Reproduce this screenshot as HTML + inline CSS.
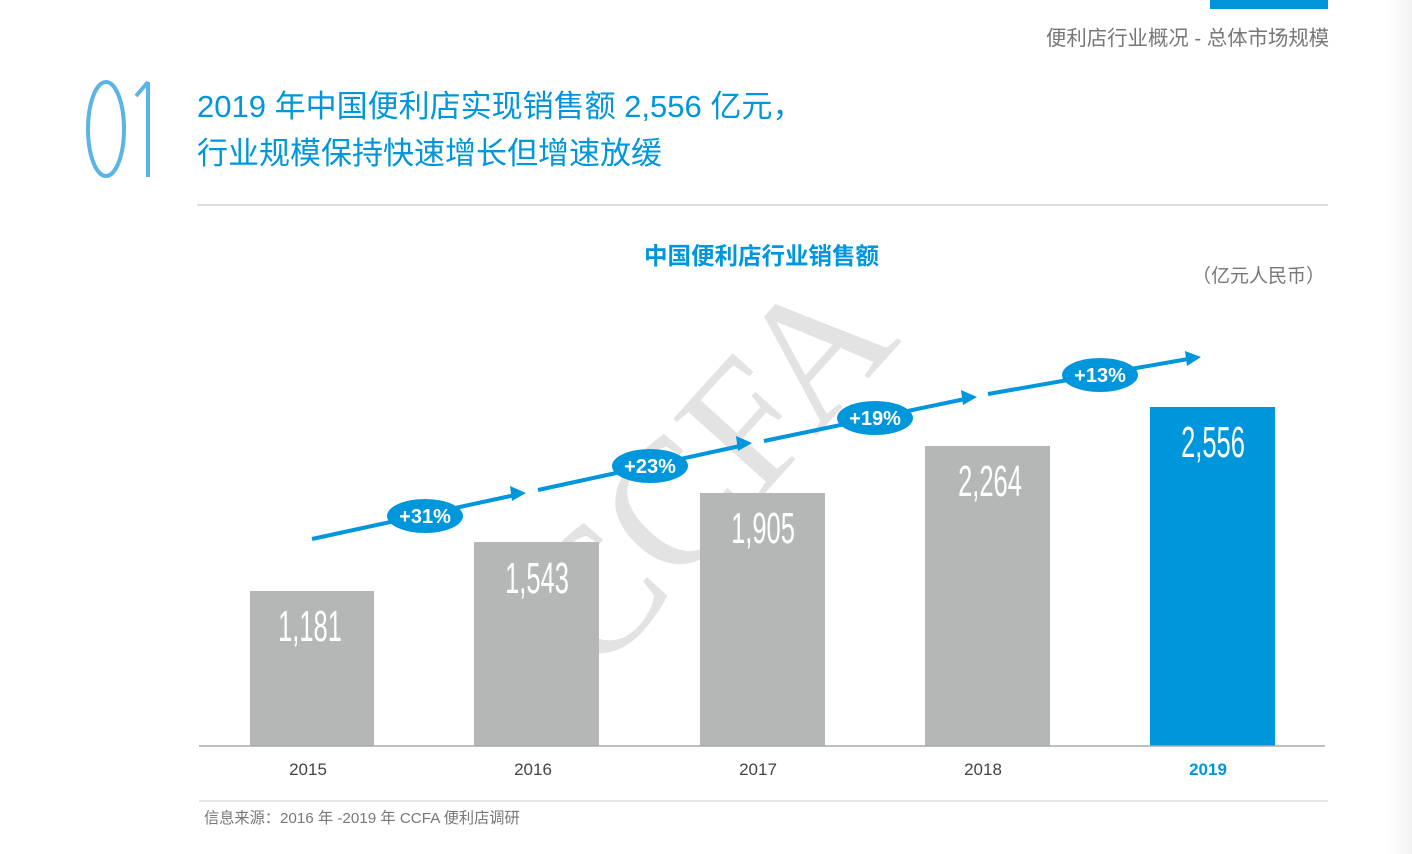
<!DOCTYPE html>
<html><head><meta charset="utf-8"><style>
body{margin:0;width:1412px;height:854px;background:#fff;overflow:hidden;position:relative;font-family:"Liberation Sans","Noto Sans CJK SC",sans-serif}
.abs{position:absolute}
</style></head><body>
<div class="abs" style="left:1210px;top:0;width:118px;height:9px;background:#0096d9"></div>
<div class="abs" style="right:0;top:0;width:24px;height:854px;background:linear-gradient(to right,#fff,#f2f2f2)"></div>
<div class="abs" style="left:1046px;top:21px;font-size:20.4px;color:#777;white-space:nowrap">便利店行业概况 - 总体市场规模</div>
<svg class="abs" style="left:0;top:0" width="1412" height="854">
<g fill="none" stroke="#5ab4e5" stroke-width="4">
<ellipse cx="106" cy="129" rx="18" ry="47"/>
<line x1="148" y1="82" x2="148" y2="177"/>
<line x1="148" y1="82" x2="136" y2="96"/>
</g>
<line x1="197" y1="205" x2="1328" y2="205" stroke="#bbb" stroke-width="1"/>
<text x="0" y="0" font-family="Liberation Serif,serif" font-size="180" fill="#dcdcdc" fill-opacity="0.8" text-anchor="middle" transform="translate(705,470) rotate(-48) translate(0,60)">CCFA</text>
<g fill="#b5b6b6">
<rect x="250" y="591" width="124" height="155"/>
<rect x="474" y="542" width="125" height="204"/>
<rect x="700" y="493" width="125" height="253"/>
<rect x="925" y="446" width="125" height="300"/>
</g>
<rect x="1150" y="407" width="125" height="339" fill="#0096db"/>
<line x1="199" y1="746" x2="1325" y2="746" stroke="#aaa" stroke-width="1.5"/>
<line x1="199" y1="801" x2="1328" y2="801" stroke="#ccc" stroke-width="1"/>
<g font-family="Liberation Sans Narrow,Liberation Sans,sans-serif" font-size="44" fill="#fff" text-anchor="middle" font-weight="300">
<text x="310" y="641" transform="translate(310 0) scale(0.58 1) translate(-310 0)">1,181</text>
<text x="537" y="593" transform="translate(537 0) scale(0.58 1) translate(-537 0)">1,543</text>
<text x="763" y="543" transform="translate(763 0) scale(0.58 1) translate(-763 0)">1,905</text>
<text x="990" y="496" transform="translate(990 0) scale(0.58 1) translate(-990 0)">2,264</text>
<text x="1213" y="457" transform="translate(1213 0) scale(0.58 1) translate(-1213 0)">2,556</text>
</g>
<g stroke="#0096db" stroke-width="4">
<line x1="312" y1="539" x2="515" y2="495"/>
<line x1="538" y1="490" x2="740" y2="446"/>
<line x1="764" y1="441" x2="965" y2="399"/>
<line x1="988" y1="394" x2="1188" y2="359"/>
</g>
<g fill="#0096db">
<polygon points="526,493 510,486 512,501"/>
<polygon points="752,443 736,436 738,451"/>
<polygon points="977,397 961,390 963,405"/>
<polygon points="1201,357 1185,351 1187,366"/>
<ellipse cx="425" cy="516" rx="38" ry="17"/>
<ellipse cx="650" cy="466" rx="38" ry="17"/>
<ellipse cx="875" cy="418" rx="38" ry="17"/>
<ellipse cx="1100" cy="375" rx="38" ry="17"/>
</g>
<g font-family="Liberation Sans,sans-serif" font-size="20" font-weight="bold" fill="#fff" text-anchor="middle">
<text x="425" y="523">+31%</text>
<text x="650" y="473">+23%</text>
<text x="875" y="425">+19%</text>
<text x="1100" y="382">+13%</text>
</g>
<g font-family="Liberation Sans,sans-serif" font-size="17" fill="#444" text-anchor="middle">
<text x="308" y="775">2015</text>
<text x="533" y="775">2016</text>
<text x="758" y="775">2017</text>
<text x="983" y="775">2018</text>
<text x="1208" y="775" fill="#0096db" font-weight="bold">2019</text>
</g>
</svg>
<div class="abs" style="left:197px;top:83px;font-size:31px;line-height:47px;color:#0096db;white-space:nowrap">2019 年中国便利店实现销售额 2,556 亿元，<br>行业规模保持快速增长但增速放缓</div>
<div class="abs" style="left:644px;top:237px;font-size:23.5px;font-weight:bold;color:#0096db;white-space:nowrap">中国便利店行业销售额</div>
<div class="abs" style="left:1192px;top:261px;font-size:19px;color:#777;white-space:nowrap">（亿元人民币）</div>
<div class="abs" style="left:204px;top:806px;font-size:15.2px;color:#777;white-space:nowrap">信息来源：2016 年 -2019 年 CCFA 便利店调研</div>
</body></html>
